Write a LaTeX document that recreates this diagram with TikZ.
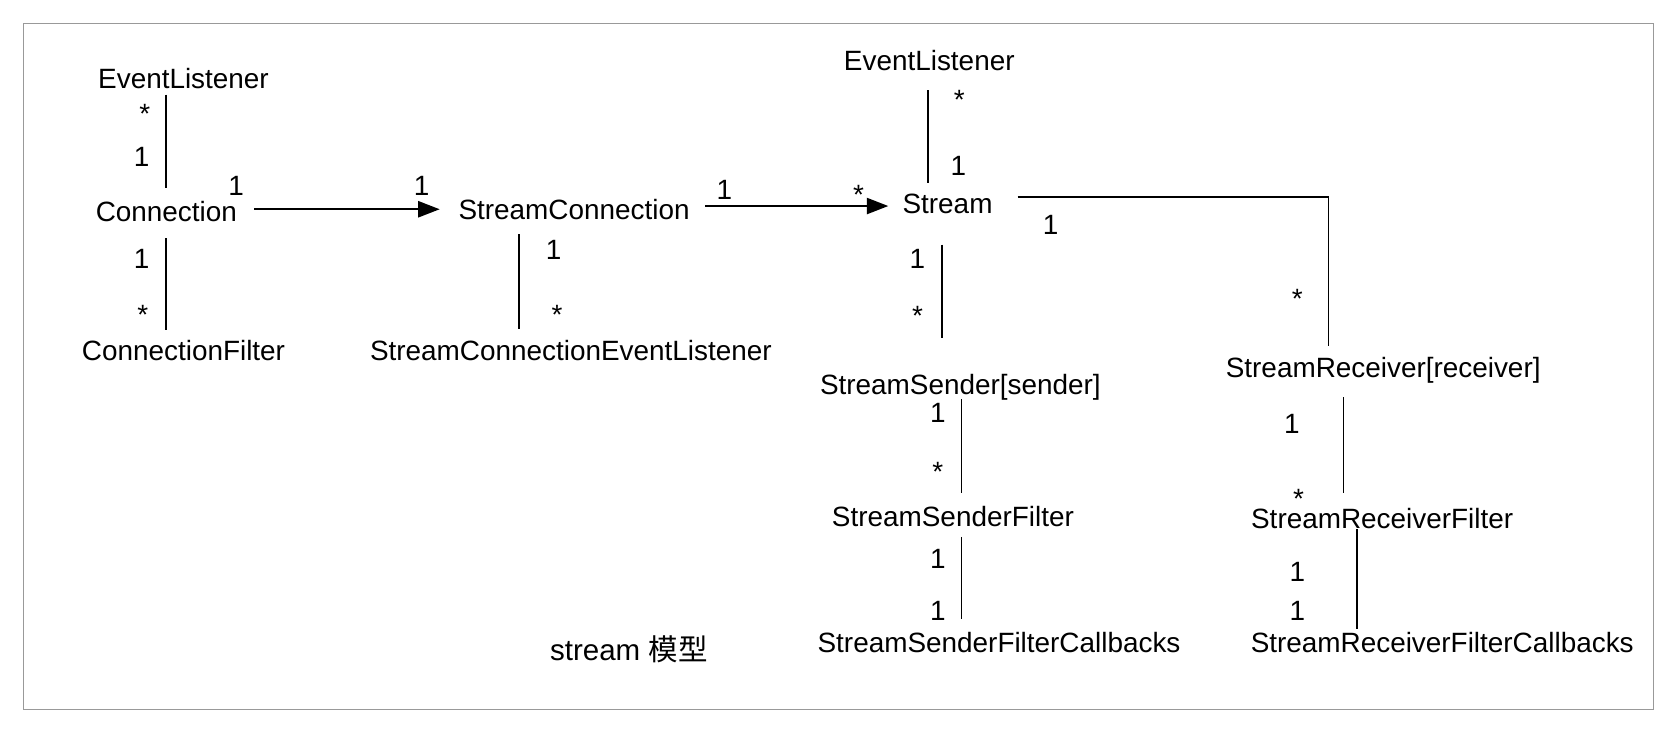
\documentclass[tikz,border=0pt]{standalone}
\usepackage{fontspec}
\setmainfont{Liberation Sans}
\newfontfamily\cjk{Noto Sans CJK SC}
\usetikzlibrary{arrows.meta}
\newcommand{\lowstar}{\raisebox{-0.42em}{*}}
\begin{document}
\begin{tikzpicture}[x=1pt,y=-1pt,
  cls/.style={inner sep=0pt, font=\fontsize{26}{30}\selectfont},
  mult/.style={inner sep=0pt, font=\fontsize{26}{30}\selectfont},
  star/.style={mult, text height=0.31em, text depth=0pt},
  assoc/.style={line width=1.8pt},
  nav/.style={line width=1.9pt, -{Triangle[length=20pt,width=15pt]}},
  frame/.style={draw=black!40, line width=1.5pt}]
\useasboundingbox (0,0) rectangle (1560,691.5);
\draw[frame] (22,22) rectangle (1541,661);

% classes
\node[cls] (el1)  at (171,73)  {EventListener};
\node[cls] (conn) at (155,197) {Connection};
\node[cls] (cf)   at (171,327) {ConnectionFilter};
\node[cls] (sc)   at (535,195) {StreamConnection};
\node[cls] (scel) at (532,327) {StreamConnectionEventListener};
\node[cls] (el2)  at (866,56)  {EventListener};
\node[cls] (st)   at (883,190) {Stream};
\node[cls] (ss)   at (895,361) {StreamSender[sender]};
\node[cls] (ssf)  at (888,481) {StreamSenderFilter};
\node[cls] (ssfc) at (931,599) {StreamSenderFilterCallbacks};
\node[cls] (sr)   at (1289,345) {StreamReceiver[receiver]};
\node[cls] (srf)  at (1288,483) {StreamReceiverFilter};
\node[cls] (srfc) at (1344,599) {StreamReceiverFilterCallbacks};
\node[inner sep=0pt, font=\fontsize{27.5}{32}\selectfont] (title) at (586,605) {stream {\cjk 模型}};

% connectors
\draw[assoc] ([xshift=-16pt,yshift=-5.5pt]el1.south) -- ([yshift=12.5pt]conn.north);
\draw[assoc] ([yshift=-15.5pt]conn.south) -- ([xshift=-16pt,yshift=9.5pt]cf.north);
\draw[nav] ([xshift=16pt,yshift=2pt]conn.east) -- ([xshift=-17.4pt]sc.west);
\draw[assoc] ([xshift=-51pt,yshift=-13.5pt]sc.south) -- ([xshift=-48pt,yshift=10.5pt]scel.north);
\draw[nav] ([xshift=14.4pt,yshift=3pt]sc.east) -- ([xshift=-13.1pt,yshift=-2pt]st.west);
\draw[assoc] ([xshift=-1pt,yshift=-18.5pt]el2.south) -- ([xshift=-18pt,yshift=10.5pt]st.north);
\draw[assoc] ([xshift=-5pt,yshift=-28.5pt]st.south) -- ([xshift=-17pt,yshift=33.8pt]ss.north);
\draw[assoc] ([xshift=23.1pt,yshift=6pt]st.east) -| ([xshift=-51pt,yshift=9.8pt]sr.north);
\draw[assoc] ([xshift=1pt,yshift=1.2pt]ss.south) -- ([xshift=8pt,yshift=11.5pt]ssf.north);
\draw[assoc] ([xshift=8pt,yshift=-9.5pt]ssf.south) -- ([xshift=-35pt,yshift=12.5pt]ssfc.north);
\draw[assoc] ([xshift=-37pt,yshift=-12.8pt]sr.south) -- ([xshift=-36pt,yshift=13.5pt]srf.north);
\draw[assoc] ([xshift=-23pt,yshift=-0.5pt]srf.south) -- ([xshift=-79pt,yshift=3.5pt]srfc.north);

% multiplicities
\node[star] (m1)  at (135,103) {\lowstar};
\node[mult] (m2)  at (132,146) {1};
\node[mult] (m3)  at (220,173) {1};
\node[mult] (m4)  at (393,173) {1};
\node[mult] (m5)  at (132,241) {1};
\node[star] (m6)  at (133,290) {\lowstar};
\node[mult] (m7)  at (516,233) {1};
\node[star] (m8)  at (519,290) {\lowstar};
\node[mult] (m9)  at (675,177) {1};
\node[star] (m10) at (800,178) {\lowstar};
\node[star] (m11) at (894,90)  {\lowstar};
\node[mult] (m12) at (893,155) {1};
\node[mult] (m13) at (855,241) {1};
\node[star] (m14) at (855,291) {\lowstar};
\node[mult] (m15) at (979,210) {1};
\node[star] (m16) at (1209,275) {\lowstar};
\node[mult] (m17) at (874,385) {1};
\node[star] (m18) at (874,436) {\lowstar};
\node[mult] (m19) at (874,521) {1};
\node[mult] (m20) at (874,569) {1};
\node[mult] (m21) at (1204,395) {1};
\node[star] (m22) at (1210,461) {\lowstar};
\node[mult] (m23) at (1209,533) {1};
\node[mult] (m24) at (1209,569) {1};
\end{tikzpicture}
\end{document}
